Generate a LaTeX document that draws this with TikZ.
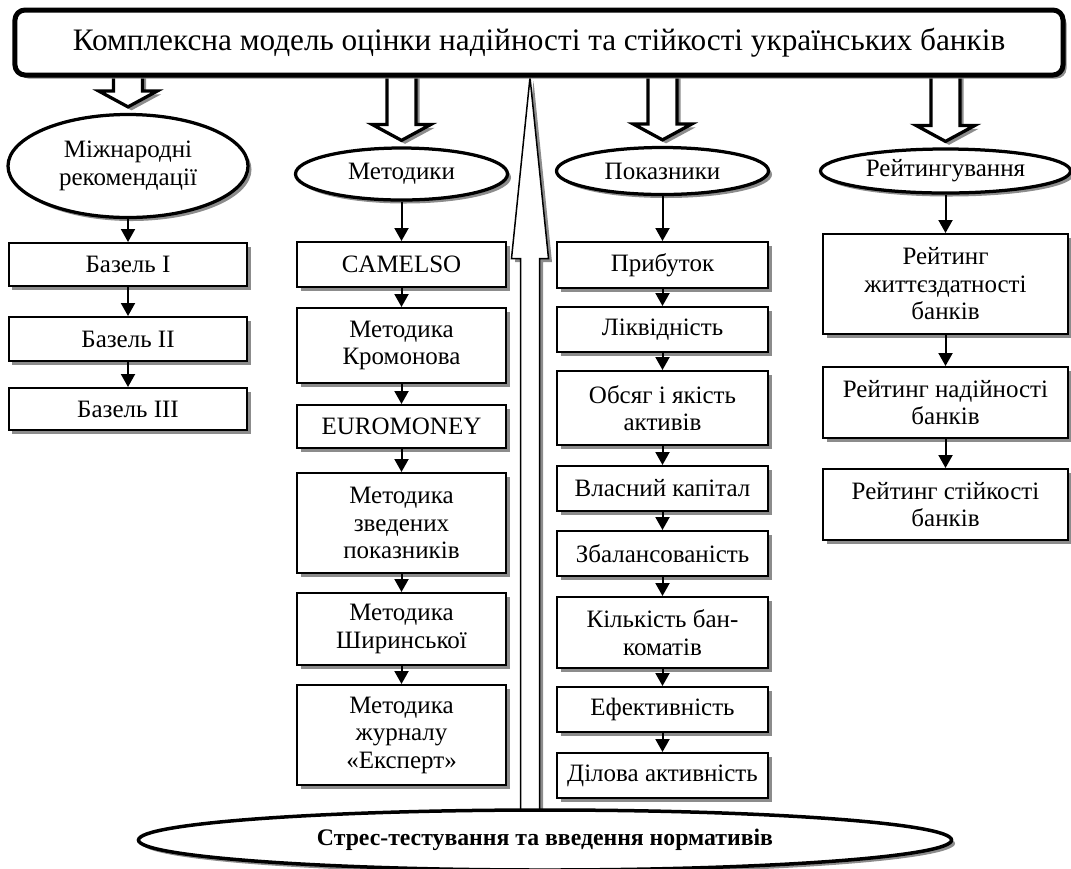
\documentclass[tikz,border=0pt]{standalone}
\usepackage{fontspec}
\setmainfont{Liberation Serif}
\usetikzlibrary{arrows.meta,shapes.geometric,shadows,backgrounds,calc}

\tikzset{
    txt/.style={font=\fontsize{10}{11}\selectfont, align=center, inner sep=0pt},
    grayshadow/.style={drop shadow={shadow xshift=1.4pt, shadow yshift=-1.4pt, fill=black!45, opacity=1}},
    box/.style={txt, draw, line width=0.8pt, fill=white, grayshadow},
    oval/.style={txt, ellipse, draw, line width=1.3pt, fill=white, grayshadow},
    link/.style={line width=0.8pt, -{Triangle[width=5.6pt,length=5.2pt]}},
    hollow/.style={draw, line width=1.3pt, fill=white, grayshadow},
    thinhollow/.style={draw, line width=0.6pt, fill=white, grayshadow},
    basel/.style={box, minimum width=95.2pt},
    method/.style={box, minimum width=83.6pt},
    index/.style={box, minimum width=84.4pt},
    rating/.style={box, minimum width=98pt}
}

\begin{document}
\begin{tikzpicture}[x=0.4pt, y=-0.4pt]
    \useasboundingbox (0,0) rectangle (1071,868);

    % Main block
    \node[box, line width=2pt, rounded corners=4pt, minimum width=419.2pt, minimum height=26pt,
          font=\fontsize{12.5}{14}\selectfont] (model) at (539,42.5)
        {Комплексна модель оцінки надійності та стійкості українських банків};

    % Groups
    \node[oval, minimum width=96pt, minimum height=41.2pt] (intl) at (128,166) {Міжнародні\\рекомендації};
    \node[oval, minimum width=84.8pt, minimum height=20.8pt] (meth) at (401.5,174) {Методики};
    \node[oval, minimum width=84.8pt, minimum height=18.8pt] (ind) at (662.5,171) {Показники};
    \node[oval, minimum width=100pt, minimum height=17.6pt] (rate) at (945.5,171) {Рейтингування};

    % International recommendations
    \node[basel, minimum height=17.2pt] (b1) at (128,264.5) {Базель I};
    \node[basel, minimum height=17.6pt] (b2) at (128,339) {Базель II};
    \node[basel, minimum height=16.8pt] (b3) at (128,409) {Базель III};

    % Methods
    \node[method, minimum height=18pt] (m1) at (401.5,264.5) {CAMELSO};
    \node[method, minimum height=30pt] (m2) at (401.5,345.5) {Методика\\Кромонова};
    \node[method, minimum height=17.2pt] (m3) at (401.5,426.5) {EUROMONEY};
    \node[method, minimum height=40pt] (m4) at (401.5,523) {Методика\\зведених\\показників};
    \node[method, minimum height=28.8pt] (m5) at (401.5,629) {Методика\\Ширинської};
    \node[method, minimum height=40pt] (m6) at (401.5,735) {Методика\\журналу\\«Експерт»};

    % Indicators
    \node[index, minimum height=18.4pt] (p1) at (662.5,265) {Прибуток};
    \node[index, minimum height=18pt] (p2) at (662.5,329.5) {Ліквідність};
    \node[index, minimum height=29.6pt] (p3) at (662.5,408) {Обсяг і якість\\активів};
    \node[index, minimum height=18pt] (p4) at (662.5,488.5) {Власний капітал};
    \node[index, minimum height=18pt] (p5) at (662.5,553.5) {Збалансованість};
    \node[index, minimum height=28.4pt] (p6) at (662.5,632.5) {Кількість бан-\\коматів};
    \node[index, minimum height=18pt] (p7) at (662.5,709.5) {Ефективність};
    \node[index, minimum height=18pt] (p8) at (662.5,775.5) {Ділова активність};

    % Ratings
    \node[rating, minimum height=40pt] (r1) at (945.5,284) {Рейтинг\\життєздатності\\банків};
    \node[rating, minimum height=28.4pt] (r2) at (945.5,402.5) {Рейтинг надійності\\банків};
    \node[rating, minimum height=28.4pt] (r3) at (945.5,504.5) {Рейтинг стійкості\\банків};

    % Stress testing
    \node[oval, line width=1.4pt, minimum width=325.2pt, minimum height=24pt,
          font=\bfseries\fontsize{9.5}{11}\selectfont] (stress) at (545,840)
        {Стрес-тестування та введення нормативів};

    % Links
    \foreach \a/\b in {intl/b1, b1/b2, b2/b3,
                       meth/m1, m1/m2, m2/m3, m3/m4, m4/m5, m5/m6,
                       ind/p1, p1/p2, p2/p3, p3/p4, p4/p5, p5/p6, p6/p7, p7/p8,
                       rate/r1, r1/r2, r2/r3}
        \draw[link] (\a) -- (\b);

    % Block arrows
    \begin{scope}[on background layer]
        \foreach \e in {intl,meth,ind,rate}
            \draw[hollow] let \p1=(model.center -| \e.north), \p2=(\e.north) in
                (\x1-5.8pt,\y1) -- (\x1-5.8pt,\y2+8.8pt) -- (\x1-11.8pt,\y2+8.8pt) -- (\x1,\y2+2.4pt)
                -- (\x1+11.8pt,\y2+8.8pt) -- (\x1+5.8pt,\y2+8.8pt) -- (\x1+5.8pt,\y1) -- cycle;

        \draw[thinhollow] let \p1=(530,0 |- stress.center), \p2=(530,0 |- model.south) in
            (\x1-3.8pt,\y1) -- (\x1-3.8pt,\y2-72.4pt) -- (\x1-7.4pt,\y2-72.4pt) -- (\x1,\y2)
            -- (\x1+7.4pt,\y2-72.4pt) -- (\x1+3.8pt,\y2-72.4pt) -- (\x1+3.8pt,\y1) -- cycle;
    \end{scope}
\end{tikzpicture}
\end{document}
